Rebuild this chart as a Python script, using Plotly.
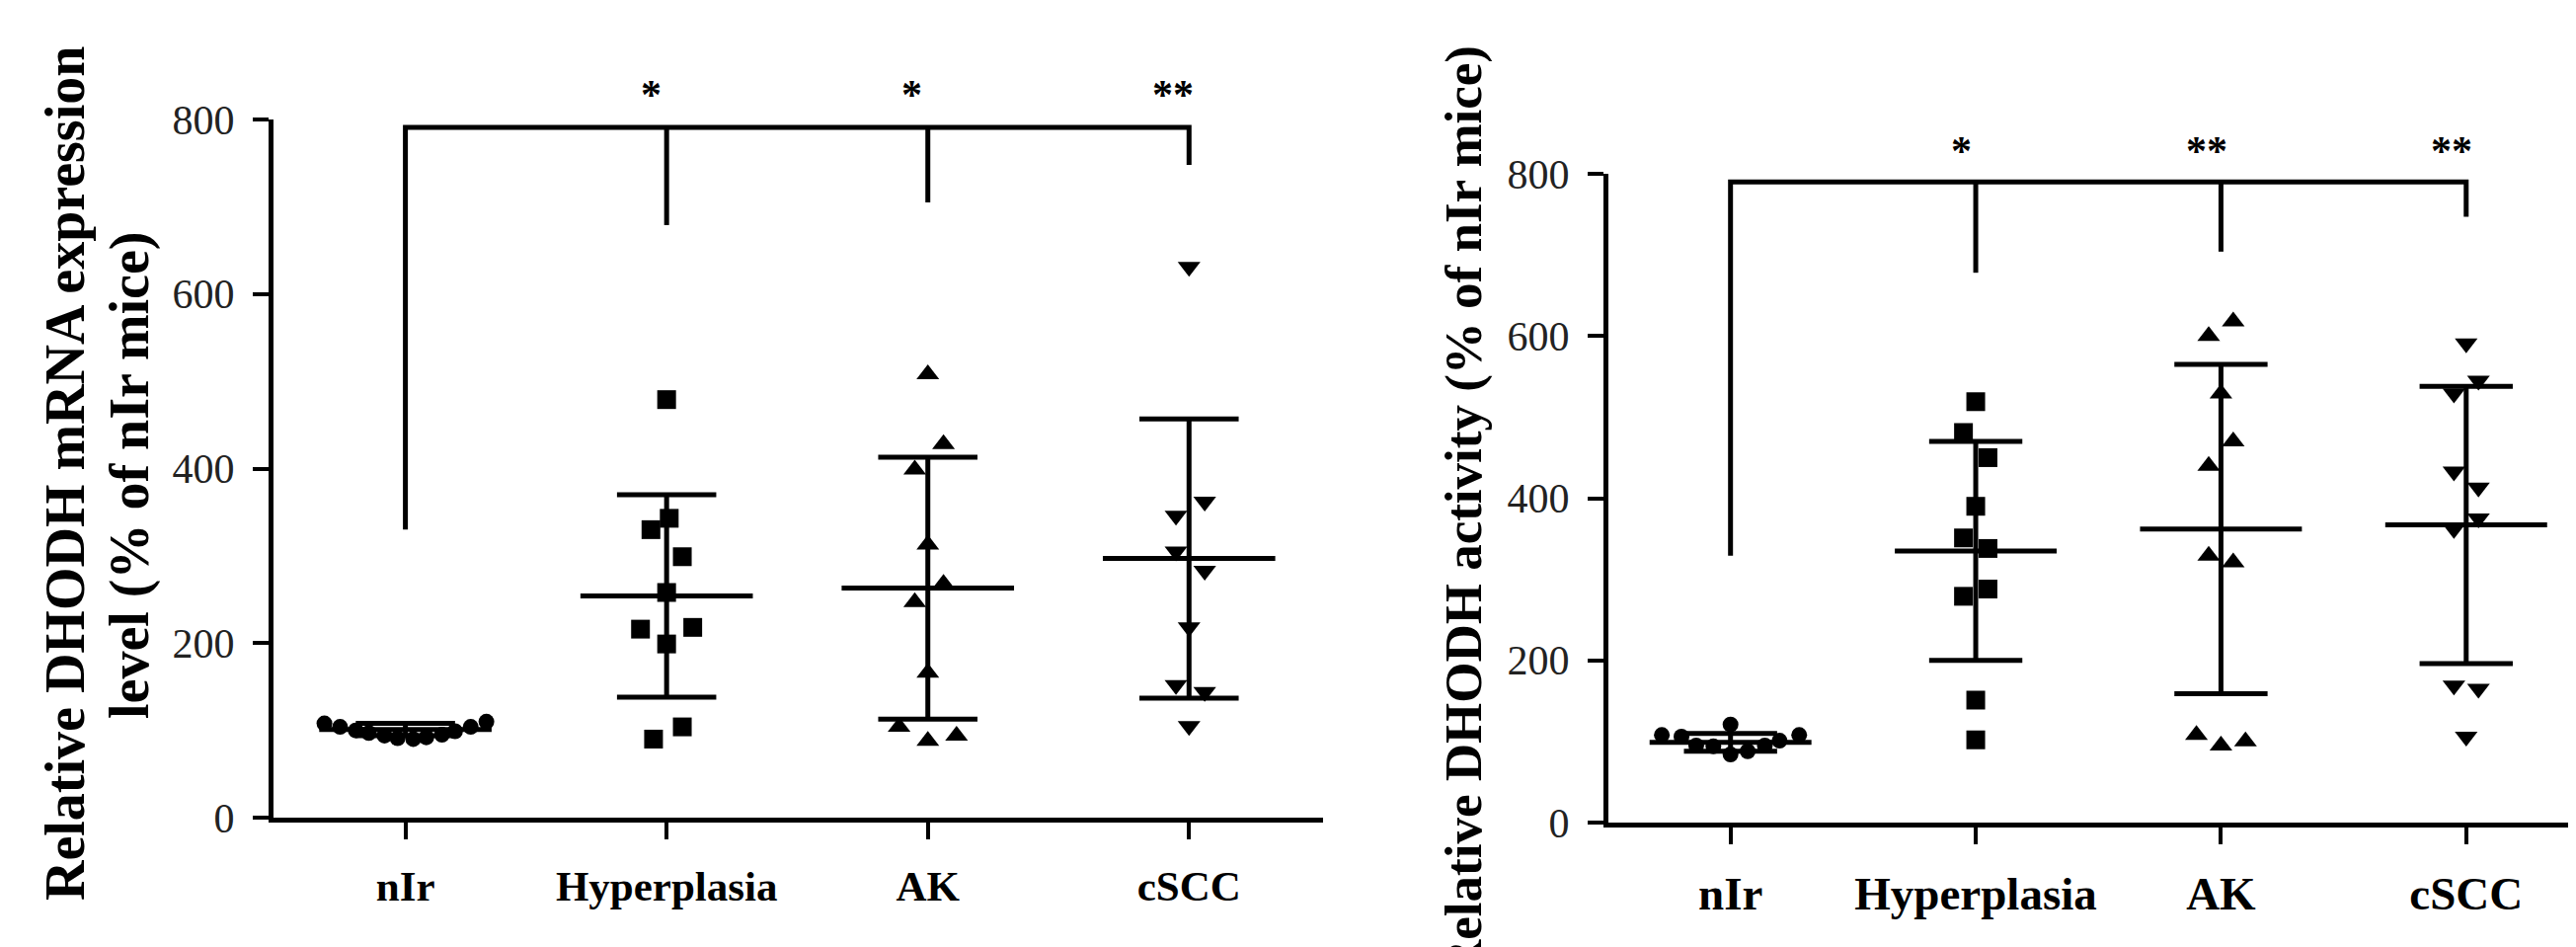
import plotly.graph_objects as go

# ---------------- data ----------------
categories = ["nIr", "Hyperplasia", "AK", "cSCC"]
yticks = [0, 200, 400, 600, 800]
y_max = 800

# Panel 1: relative DHODH mRNA expression
mrna_nir = [108, 104, 100, 97, 94, 91, 90, 92, 95, 99, 104, 110]
mrna_hyp = [479, 343, 330, 299, 258, 218, 216, 199, 104, 90]
mrna_ak = [508, 428, 399, 313, 268, 247, 166, 104, 94, 88]
mrna_cscc = [631, 362, 346, 305, 283, 218, 152, 144, 105]
mrna_mean = [101, 254, 263, 297]
mrna_sd = [7, 116, 150, 160]
mrna_bracket_top = 791
mrna_bracket_legs = [330, 679, 705, 748]
mrna_stars = ["", "*", "*", "**"]

# Panel 2: relative DHODH activity
act_nir = [108, 106, 95, 94, 121, 84, 88, 95, 101, 108]
act_hyp = [519, 481, 450, 390, 351, 338, 288, 279, 151, 102]
act_ak = [618, 600, 529, 470, 440, 329, 321, 108, 95, 100]
act_cscc = [591, 545, 529, 433, 413, 375, 362, 169, 165, 106]
act_mean = [99, 335, 362, 367]
act_sd = [11, 135, 203, 171]
act_bracket_top = 790
act_bracket_legs = [329, 678, 704, 747]
act_stars = ["", "*", "**", "**"]

star_level = 828

# horizontal scatter (jitter) of points within each group, in category units
mrna_jit = [
    [-0.31, -0.25, -0.19, -0.14, -0.08, -0.03, 0.03, 0.08, 0.14, 0.19, 0.25, 0.31],
    [0.0, 0.01, -0.06, 0.06, 0.0, 0.1, -0.1, 0.0, 0.06, -0.05],
    [0.0, 0.06, -0.05, 0.0, 0.06, -0.05, 0.0, -0.11, 0.11, 0.0],
    [0.0, 0.06, -0.05, -0.05, 0.06, 0.0, -0.05, 0.06, 0.0],
]
act_jit = [
    [-0.28, -0.2, -0.14, -0.07, 0.0, 0.0, 0.07, 0.14, 0.2, 0.28],
    [0.0, -0.05, 0.05, 0.0, -0.05, 0.05, 0.05, -0.05, 0.0, 0.0],
    [0.05, -0.05, 0.0, 0.05, -0.05, -0.05, 0.05, -0.1, 0.0, 0.1],
    [0.0, 0.05, -0.05, -0.05, 0.05, 0.05, -0.05, -0.05, 0.05, 0.0],
]

# ---------------- styling ----------------
W, H = 2609, 959
SERIF = "Liberation Serif, Times New Roman, serif"
symbols = ["circle", "square", "triangle-up", "triangle-down"]
msizes = [16, 19, 20, 20]
LW = 5
MEAN_HALF = 0.33
CAP_HALF = 0.19
STAR_SHIFT = -0.06

fig = go.Figure()


def add_panel(groups, jits, means, sds, top, legs, stars, xa, ya):
    # individual points
    for i, (vals, jit) in enumerate(zip(groups, jits)):
        fig.add_trace(go.Scatter(
            x=[i + j for j in jit], y=vals, mode="markers",
            marker=dict(symbol=symbols[i], size=msizes[i], color="black",
                        line=dict(width=0)),
            xaxis=xa, yaxis=ya, showlegend=False, cliponaxis=False,
            hoverinfo="skip"))
    # mean lines and SD bars
    xs, ys = [], []
    for i, (m, s) in enumerate(zip(means, sds)):
        xs += [i - MEAN_HALF, i + MEAN_HALF, None]
        ys += [m, m, None]
        xs += [i, i, None]
        ys += [m - s, m + s, None]
        xs += [i - CAP_HALF, i + CAP_HALF, None, i - CAP_HALF, i + CAP_HALF, None]
        ys += [m - s, m - s, None, m + s, m + s, None]
    fig.add_trace(go.Scatter(
        x=xs, y=ys, mode="lines", line=dict(color="black", width=LW),
        xaxis=xa, yaxis=ya, showlegend=False, cliponaxis=False,
        hoverinfo="skip"))
    # significance bracket
    bx = [0, 0, len(legs) - 1, len(legs) - 1, None]
    by = [legs[0], top, top, legs[-1], None]
    for i in range(1, len(legs) - 1):
        bx += [i, i, None]
        by += [legs[i], top, None]
    fig.add_trace(go.Scatter(
        x=bx, y=by, mode="lines", line=dict(color="black", width=LW),
        xaxis=xa, yaxis=ya, showlegend=False, cliponaxis=False,
        hoverinfo="skip"))
    # significance stars (placed above the axis range -> use domain reference)
    for i, st in enumerate(stars):
        if st:
            fig.add_annotation(
                x=i + STAR_SHIFT, xref=xa,
                y=star_level / y_max, yref=ya + " domain",
                text="<b>" + st + "</b>", showarrow=False,
                xanchor="center", yanchor="middle",
                font=dict(family=SERIF, size=42, color="black"))


add_panel([mrna_nir, mrna_hyp, mrna_ak, mrna_cscc], mrna_jit, mrna_mean,
          mrna_sd, mrna_bracket_top, mrna_bracket_legs, mrna_stars, "x", "y")
add_panel([act_nir, act_hyp, act_ak, act_cscc], act_jit, act_mean,
          act_sd, act_bracket_top, act_bracket_legs, act_stars, "x2", "y2")

common_x = dict(
    tickmode="array", tickvals=list(range(len(categories))),
    ticktext=["<b>" + c + "</b>" for c in categories],
    showline=True, linewidth=LW, linecolor="black", mirror=False,
    ticks="outside", ticklen=17, tickwidth=4, tickcolor="black",
    showgrid=False, zeroline=False, fixedrange=True,
    ticklabelstandoff=10, automargin=False,
)
common_y = dict(
    range=[0, y_max], tickmode="array", tickvals=yticks,
    ticktext=[str(v) for v in yticks],
    showline=True, linewidth=LW, linecolor="black",
    ticks="outside", ticklen=16, tickwidth=4, tickcolor="black",
    showgrid=False, zeroline=False, fixedrange=True,
    tickfont=dict(family=SERIF, size=42, color="#222222"),
    ticklabelstandoff=10, automargin=False,
)

fig.update_layout(
    width=W, height=H,
    margin=dict(l=0, r=0, t=0, b=0, pad=0, autoexpand=False),
    paper_bgcolor="white", plot_bgcolor="white", showlegend=False,
    xaxis=dict(common_x, domain=[269 / W, 1332 / W], range=[-0.505, 3.513],
               anchor="y", tickfont=dict(family=SERIF, size=43, color="black")),
    yaxis=dict(common_y, domain=[1 - 820 / H, 1 - 113 / H], anchor="x"),
    xaxis2=dict(common_x, domain=[1621 / W, 1.0], range=[-0.498, 3.48],
                anchor="y2", tickfont=dict(family=SERIF, size=47, color="black")),
    yaxis2=dict(common_y, domain=[1 - 825 / H, 1 - 168 / H], anchor="x2"),
)

# axis titles
fig.add_annotation(x=58 / W, y=1 - 472 / H, xref="paper", yref="paper",
                   text="<b>Relative DHODH mRNA expression</b>", textangle=-90,
                   showarrow=False, xanchor="center", yanchor="middle",
                   font=dict(family=SERIF, size=56, color="black"))
fig.add_annotation(x=123 / W, y=1 - 474 / H, xref="paper", yref="paper",
                   text="<b>level (% of nIr mice)</b>", textangle=-90,
                   showarrow=False, xanchor="center", yanchor="middle",
                   font=dict(family=SERIF, size=56, color="black"))
fig.add_annotation(x=1474 / W, y=1 - 510 / H, xref="paper", yref="paper",
                   text="<b>Relative DHODH activity (% of nIr mice)</b>",
                   textangle=-90, showarrow=False, xanchor="center",
                   yanchor="middle",
                   font=dict(family=SERIF, size=53, color="black"))

fig.write_html("out.html")
